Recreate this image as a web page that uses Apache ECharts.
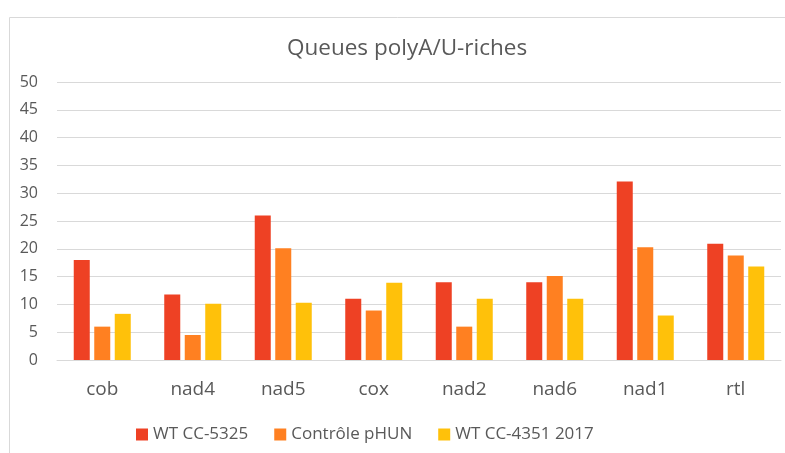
<!DOCTYPE html>
<html>
<head>
<meta charset="utf-8">
<script src="https://cdn.jsdelivr.net/npm/echarts@6/dist/echarts.min.js"></script>
<style>
  html, body { margin: 0; padding: 0; background: #ffffff; }
  #chart { width: 785px; height: 453px; }
</style>
</head>
<body>
<div id="chart"></div>
<script>
// Gene categories along the x axis
const categories = ['cob', 'nad4', 'nad5', 'cox', 'nad2', 'nad6', 'nad1', 'rtl'];

// Series names
const seriesNames = ['WT CC-5325', 'Contrôle pHUN', 'WT CC-4351 2017'];

// Values per series (percent of polyA/U-rich tails)
const wtCC5325 = [18, 11.8, 26, 11, 14, 14, 32.1, 20.9];
const controlePHUN = [6, 4.5, 20.1, 8.9, 6, 15.1, 20.3, 18.8];
const wtCC4351 = [8.3, 10.1, 10.3, 13.9, 11, 11, 8, 16.8];

// Y axis ticks
const yMin = 0;
const yMax = 50;
const yStep = 5;

const colors = ['#EE4124', '#FF8021', '#FFC10A'];
const font = 'Open Sans, Lato, sans-serif';

const chart = echarts.init(document.getElementById('chart'));

const seriesData = [wtCC5325, controlePHUN, wtCC4351];

chart.setOption({
  animation: false,
  color: colors,
  graphic: [{
    type: 'rect',
    shape: { x: 9.5, y: 17.5, width: 800, height: 500 },
    style: { fill: 'none', stroke: '#d9d9d9', lineWidth: 1 },
    silent: true
  }],
  title: {
    text: 'Queues polyA/U-riches',
    left: 282,
    top: 32,
    textStyle: { fontFamily: font, fontSize: 22.5, fontWeight: 'normal', color: '#595959' }
  },
  legend: {
    top: 421,
    left: 131,
    itemWidth: 12,
    itemHeight: 12,
    itemGap: 26,
    icon: 'rect',
    textStyle: { fontFamily: font, fontSize: 17, color: '#595959' },
    data: seriesNames
  },
  grid: {
    left: 57,
    right: 4,
    top: 82,
    bottom: 93,
    containLabel: false
  },
  xAxis: {
    type: 'category',
    data: categories,
    axisLine: { lineStyle: { color: '#d9d9d9', width: 1 } },
    axisTick: { show: false },
    axisLabel: { fontFamily: font, fontSize: 19, color: '#595959', margin: 20 }
  },
  yAxis: {
    type: 'value',
    min: yMin,
    max: yMax,
    interval: yStep,
    axisLine: { show: false },
    axisTick: { show: false },
    splitLine: { lineStyle: { color: '#d9d9d9', width: 1 } },
    axisLabel: { fontFamily: font, fontSize: 16, color: '#595959', margin: 19 }
  },
  series: seriesNames.map((name, i) => ({
    name: name,
    type: 'bar',
    data: seriesData[i],
    barGap: '28%',
    barCategoryGap: '37%',
    itemStyle: { color: colors[i] }
  }))
});
</script>
</body>
</html>
